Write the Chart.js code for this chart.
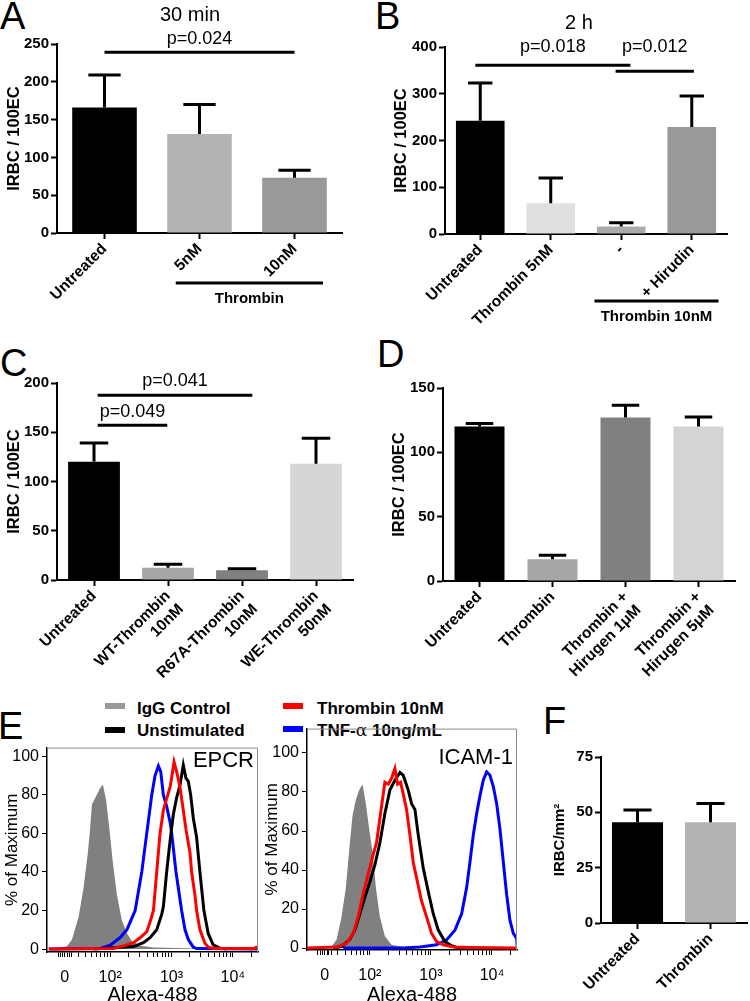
<!DOCTYPE html>
<html><head><meta charset="utf-8">
<script src="https://cdn.jsdelivr.net/npm/chart.js@4.4.1/dist/chart.umd.min.js"></script>
<style>
body{margin:0;background:#fff;width:750px;height:1001px;position:relative;overflow:hidden;font-family:"Liberation Sans",Arial,sans-serif;}
canvas{position:absolute;}
.lt{position:absolute;font-size:38px;line-height:1;color:#000;}
.lg{position:absolute;font-size:17px;font-weight:bold;line-height:1;color:#000;white-space:nowrap;}
.sw{position:absolute;width:20px;height:6px;}
</style></head><body>
<div class="lt" style="left:0px;top:-3px">A</div>
<div class="lt" style="left:375px;top:-3px">B</div>
<div class="lt" style="left:0px;top:344px">C</div>
<div class="lt" style="left:377px;top:335px">D</div>
<div class="lt" style="left:-2px;top:707px">E</div>
<div class="lt" style="left:543px;top:702px">F</div>

<div class="sw" style="left:105px;top:703px;background:#999"></div>
<div class="lg" style="left:137px;top:700px">IgG Control</div>
<div class="sw" style="left:105px;top:727px;background:#000"></div>
<div class="lg" style="left:137px;top:722px">Unstimulated</div>
<div class="sw" style="left:283px;top:703px;background:#ff0000"></div>
<div class="lg" style="left:317px;top:700px">Thrombin 10nM</div>
<div class="sw" style="left:283px;top:726px;background:#0000ff"></div>
<div class="lg" style="left:317px;top:722px">TNF-<span style="font-weight:normal;font-family:'DejaVu Serif',serif">α</span> 10ng/mL</div>

<canvas id="cA" width="375" height="310" style="left:0;top:0"></canvas>
<canvas id="cB" width="375" height="330" style="left:375px;top:0"></canvas>
<canvas id="cC" width="375" height="380" style="left:0;top:310px"></canvas>
<canvas id="cD" width="375" height="380" style="left:375px;top:310px"></canvas>
<canvas id="cE1" width="265" height="272" style="left:0;top:735px"></canvas>
<canvas id="cE2" width="265" height="291" style="left:260px;top:716px"></canvas>
<canvas id="cF" width="205" height="261" style="left:545px;top:740px"></canvas>
<script>
const FF = '"Liberation Sans", Arial, Helvetica, sans-serif';
Chart.defaults.font.family = FF;
Chart.defaults.color = '#000';

// ---------- Panel A (30 min) ----------
const A_labels = ['Untreated', '5nM', '10nM'];
const A_means = [166, 131, 73];
const A_sem = [43, 39, 10];
const A_sig = [{from: 0, to: 2, y: 239, label: 'p=0.024', labelY: 257}];

// ---------- Panel B (2 h) ----------
const B_labels = ['Untreated', 'Thrombin 5nM', '-', '+ Hirudin'];
const B_means = [242, 66, 16, 229];
const B_sem = [81, 54, 8, 66];
const B_sig = [
  {from: -0.07, to: 2.13, y: 361, label: 'p=0.018', labelY: 400},
  {from: 1.92, to: 3.03, y: 348, label: 'p=0.012', labelY: 400}
];

// ---------- Panel C ----------
const C_labels = ['Untreated', ['WT-Thrombin', '10nM'], ['R67A-Thrombin', '10nM'], ['WE-Thrombin', '50nM']];
const C_means = [120, 12.5, 10, 118];
const C_sem = [19, 3.5, 1.5, 26];
const C_sig = [
  {from: 0.05, to: 2.14, y: 187.5, label: 'p=0.041', labelY: 202},
  {from: 0.05, to: 0.99, y: 157, label: 'p=0.049', labelY: 171}
];

// ---------- Panel D ----------
const D_labels = ['Untreated', 'Thrombin', ['Thrombin +', 'Hirugen 1\u03BCM'], ['Thrombin +', 'Hirugen 5\u03BCM']];
const D_means = [120, 17, 127, 120];
const D_sem = [2.5, 3, 9.5, 7.5];

// ---------- Panel F ----------
const F_labels = ['Untreated', 'Thrombin'];
const F_means = [45.5, 45.5];
const F_sem = [5.5, 8.5];

// ---------- Panel E (flow histograms; x = log10 display units, y = % of max) ----------
const E_xTickLabels = [{v: 1.26, t: '0'}, {v: 2, t: '10\u00B2'}, {v: 3, t: '10\u00B3'}, {v: 4, t: '10\u2074'}];
const EPCR_igg = [[1.00,0],[1.079,0.2],[1.295,1.5],[1.377,5],[1.485,16.7],[1.566,31.8],[1.631,48.5],[1.664,59],[1.702,75],[1.783,80],[1.837,83.6],[1.881,85.3],[1.935,77],[1.989,61.9],[2.043,45],[2.108,28.4],[2.190,15],[2.271,8.4],[2.352,4.2],[2.488,1.7],[2.705,0.8],[3.247,0.5],[3.463,0]];
const EPCR_tnf = [[1.0,0],[1.837,0.3],[2.0,2],[2.163,6],[2.271,10],[2.407,20],[2.515,40],[2.596,60],[2.678,80],[2.732,90],[2.786,95],[2.824,92],[2.867,80],[2.921,74],[2.976,66],[3.003,60],[3.073,40],[3.165,20],[3.220,10],[3.274,5],[3.355,1],[3.409,0.3],[4.41,0]];
const EPCR_thr = [[1.0,0],[2.054,0.3],[2.217,1.7],[2.379,3.3],[2.488,5.9],[2.596,9],[2.650,14],[2.705,20],[2.759,40],[2.813,60],[2.867,72],[2.921,78],[2.976,84],[3.003,89],[3.041,97],[3.084,92],[3.138,84],[3.192,72],[3.236,62],[3.301,50],[3.328,40],[3.382,28],[3.409,20],[3.463,10],[3.545,3],[3.6,1],[3.68,0.3],[4.35,0.3],[4.38,1],[4.41,0.5]];
const EPCR_uns = [[1.729,0],[2.379,1.3],[2.542,3.3],[2.650,5.9],[2.759,10],[2.840,18],[2.867,22],[2.921,40],[2.976,56],[3.030,70],[3.084,78.6],[3.138,85],[3.192,95.5],[3.236,88.6],[3.274,87],[3.312,80],[3.355,68],[3.409,58],[3.463,40],[3.528,20],[3.599,8],[3.680,2.2],[3.789,0.5],[3.9,0]];

const ICAM_igg = [[1.0,0],[1.235,0],[1.372,0.8],[1.454,4.2],[1.536,16],[1.607,31],[1.672,54],[1.716,68],[1.770,76],[1.825,81],[1.880,84],[1.934,74],[1.989,61],[2.044,49],[2.098,31],[2.164,16],[2.246,6],[2.355,1.7],[2.546,0.5],[3.093,0]];
const ICAM_thr = [[0.97,0],[1.454,0.5],[1.617,2.5],[1.727,7.5],[1.809,16],[1.891,28],[1.973,38],[2.055,48],[2.109,54],[2.175,69],[2.246,85],[2.301,84],[2.355,87],[2.410,92],[2.454,84],[2.503,85],[2.546,79],[2.601,71],[2.656,58],[2.710,44],[2.765,36],[2.847,24],[2.929,16],[3.011,7.5],[3.093,3.3],[3.202,1.7],[3.366,0.5],[3.639,0.3],[4.41,0]];
const ICAM_uns = [[1.399,0],[1.536,0.8],[1.672,4.5],[1.754,9.2],[1.836,17.6],[1.918,26],[2.0,34],[2.082,42.6],[2.164,54],[2.246,69],[2.328,81],[2.410,86],[2.492,90],[2.546,88.6],[2.628,81],[2.683,74],[2.738,71],[2.792,58],[2.874,41],[2.956,29],[3.038,17.6],[3.120,9.2],[3.230,3.3],[3.339,1.2],[3.421,0.3],[3.6,0]];
const ICAM_tnf = [[1.563,0],[2.546,0],[2.820,0.5],[3.093,1.7],[3.257,4.2],[3.393,9.2],[3.503,17.6],[3.585,31],[3.639,44],[3.694,58],[3.749,69],[3.803,78],[3.858,86],[3.913,90.3],[3.967,88.6],[4.022,82.8],[4.077,74],[4.131,61],[4.186,44],[4.240,27.6],[4.295,14.2],[4.350,7.5],[4.404,5],[4.415,0]];

// ---------- plugins ----------
const errPlugin = {
  id: 'errbars',
  afterDatasetsDraw(chart) {
    const ds = chart.data.datasets[0], meta = chart.getDatasetMeta(0), y = chart.scales.y, ctx = chart.ctx;
    ctx.save(); ctx.strokeStyle = '#000'; ctx.lineWidth = 3;
    meta.data.forEach((bar, i) => {
      const base = y.getPixelForValue(ds.data[i]);
      const top = y.getPixelForValue(ds.data[i] + ds.sem[i]);
      const cw = bar.width * (ds.capFrac || 0.5) / 2;
      ctx.beginPath();
      ctx.moveTo(bar.x, base); ctx.lineTo(bar.x, top);
      ctx.moveTo(bar.x - cw, top); ctx.lineTo(bar.x + cw, top);
      ctx.stroke();
    });
    ctx.restore();
  }
};

function annPlugin(opt) {
  return {
    id: 'ann',
    afterDraw(chart) {
      const ctx = chart.ctx, x = chart.scales.x, y = chart.scales.y, ca = chart.chartArea;
      ctx.save();
      ctx.strokeStyle = '#000'; ctx.fillStyle = '#000'; ctx.lineWidth = 3;
      ctx.textAlign = 'center'; ctx.textBaseline = 'middle';
      (opt.sig || []).forEach(s => {
        const x1 = x.getPixelForValue(s.from), x2 = x.getPixelForValue(s.to), py = y.getPixelForValue(s.y);
        ctx.beginPath(); ctx.moveTo(x1, py); ctx.lineTo(x2, py); ctx.stroke();
        ctx.font = '18px ' + FF;
        ctx.fillText(s.label, (x1 + x2) / 2, y.getPixelForValue(s.labelY));
      });
      if (opt.title) {
        ctx.font = '20px ' + FF;
        ctx.fillText(opt.title.text, x.getPixelForValue(opt.title.x), y.getPixelForValue(opt.title.y));
      }
      if (opt.bracket) {
        const b = opt.bracket;
        const x1 = x.getPixelForValue(b.from), x2 = x.getPixelForValue(b.to);
        ctx.beginPath(); ctx.moveTo(x1, ca.bottom + b.dy); ctx.lineTo(x2, ca.bottom + b.dy); ctx.stroke();
        ctx.font = 'bold 15px ' + FF;
        ctx.fillText(b.label, (x1 + x2) / 2, ca.bottom + b.dy + 16);
      }
      ctx.restore();
    }
  };
}

function barPanel(id, o) {
  return new Chart(document.getElementById(id), {
    type: 'bar',
    data: {labels: o.labels, datasets: [{data: o.means, sem: o.sem, capFrac: o.capFrac, backgroundColor: o.colors, borderWidth: 0, barPercentage: o.barPct, categoryPercentage: 1}]},
    options: {
      responsive: false, animation: false, devicePixelRatio: 1,
      layout: {padding: {top: o.padTop, right: o.padRight, left: 0, bottom: 0}},
      plugins: {legend: {display: false}, tooltip: {enabled: false}},
      scales: {
        x: {
          grid: {display: true, drawOnChartArea: false, offset: false, tickLength: 6, tickWidth: 2, tickColor: '#000'},
          border: {color: '#000', width: 2},
          ticks: {color: '#000', font: {size: 15.5, weight: 'bold'}, minRotation: 45, maxRotation: 45, padding: 1, autoSkip: false},
          afterFit: s => { s.height = o.xH; }
        },
        y: {
          min: 0, max: o.ymax,
          ticks: {stepSize: o.step, color: '#000', font: {size: 15, weight: 'bold'}, padding: 2},
          grid: {drawOnChartArea: false, tickLength: 6, tickWidth: 2, tickColor: '#000'},
          border: {color: '#000', width: 2},
          title: {display: true, text: o.ytitle || 'IRBC / 100EC', color: '#000', font: {size: o.ytSize || 16.5, weight: 'bold'}, padding: {top: o.ytPad, bottom: 0}},
          afterFit: s => { s.width = o.yW; }
        }
      }
    },
    plugins: [errPlugin, annPlugin(o)]
  });
}

barPanel('cA', {labels: A_labels, means: A_means, sem: A_sem, colors: ['#000000', '#b3b3b3', '#999999'],
  barPct: 0.68, capFrac: 0.5, ymax: 250, step: 50, padTop: 44, padRight: 33, xH: 77, yW: 57, ytPad: 5,
  sig: A_sig, title: {text: '30 min', x: 0.9, y: 288}, bracket: {from: 0.75, to: 2.3, dy: 50, label: 'Thrombin'}});

barPanel('cB', {labels: B_labels, means: B_means, sem: B_sem, colors: ['#000000', '#e0e0e0', '#aaaaaa', '#999999'],
  barPct: 0.69, capFrac: 0.5, ymax: 400, step: 100, padTop: 47, padRight: 23, xH: 96, yW: 70, ytPad: 17,
  sig: B_sig, title: {text: '2 h', x: 1.4, y: 451}, bracket: {from: 1.62, to: 3.38, dy: 67, label: 'Thrombin 10nM'}});

barPanel('cC', {labels: C_labels, means: C_means, sem: C_sem, colors: ['#000000', '#a6a6a6', '#808080', '#d6d6d6'],
  barPct: 0.7, capFrac: 0.55, ymax: 200, step: 50, padTop: 73, padRight: 22, xH: 110, yW: 57, ytPad: 5, sig: C_sig});

barPanel('cD', {labels: D_labels, means: D_means, sem: D_sem, colors: ['#000000', '#a6a6a6', '#808080', '#d4d4d4'],
  barPct: 0.685, capFrac: 0.55, ymax: 150, step: 50, padTop: 78, padRight: 15, xH: 109, yW: 68, ytPad: 15});

barPanel('cF', {labels: F_labels, means: F_means, sem: F_sem, colors: ['#000000', '#b3b3b3'],
  barPct: 0.7, capFrac: 0.55, ymax: 75, step: 25, padTop: 17, padRight: 3, xH: 78, yW: 56, ytPad: 6,
  ytitle: 'IRBC/mm\u00B2', ytSize: 15});

// ---------- flow panels ----------
const framePlugin = {
  id: 'frame',
  afterDraw(chart) {
    const ca = chart.chartArea, ctx = chart.ctx, fo = chart.options.plugins.frame;
    ctx.save();
    ctx.strokeStyle = '#8c8c8c'; ctx.lineWidth = 1;
    ctx.beginPath();
    ctx.moveTo(ca.left, ca.top + 0.5); ctx.lineTo(ca.right - 0.5, ca.top + 0.5); ctx.lineTo(ca.right - 0.5, ca.bottom);
    ctx.stroke();
    ctx.fillStyle = '#000'; ctx.font = '22px ' + FF; ctx.textAlign = 'right'; ctx.textBaseline = 'middle';
    ctx.fillText(fo.label, ca.right - 4, ca.top + fo.labelDy);
    ctx.restore();
  }
};

function toXY(arr) { return arr.map(p => ({x: p[0], y: p[1]})); }

function flowPanel(id, o) {
  const minorX = [1.15, 1.19, 1.22, 1.30, 1.33, 1.37];
  for (let d = 1; d <= 4; d++) for (let k = 2; k <= 9; k++) {
    const v = d + Math.log10(k);
    if (v > 1.45 && v < 4.41) minorX.push(v);
  }
  return new Chart(document.getElementById(id), {
    type: 'line',
    data: {datasets: [
      {data: toXY(o.thr), borderColor: '#ff0000', borderWidth: 3, pointRadius: 0, fill: false, tension: 0},
      {data: toXY(o.uns), borderColor: '#000000', borderWidth: 3, pointRadius: 0, fill: false, tension: 0},
      {data: toXY(o.tnf), borderColor: '#0000ff', borderWidth: 3, pointRadius: 0, fill: false, tension: 0},
      {data: toXY(o.igg), borderColor: 'rgba(0,0,0,0)', borderWidth: 0, backgroundColor: '#808080', pointRadius: 0, fill: 'origin', tension: 0}
    ]},
    options: {
      responsive: false, animation: false, devicePixelRatio: 1,
      layout: {padding: {top: o.padTop, right: o.padRight, left: 0, bottom: 0}},
      plugins: {legend: {display: false}, tooltip: {enabled: false}, frame: {label: o.label, labelDy: o.labelDy}},
      scales: {
        x: {
          type: 'linear', min: 0.97, max: 4.41,
          afterBuildTicks: s => { s.ticks = E_xTickLabels.map(t => ({value: t.v})).concat(minorX.map(v => ({value: v}))).sort((a, b) => a.value - b.value); },
          ticks: {autoSkip: false, maxRotation: 0, color: '#000', font: {size: 16}, padding: 11,
            callback: v => { const t = E_xTickLabels.find(q => Math.abs(q.v - v) < 1e-6); return t ? t.t : ''; }},
          grid: {drawOnChartArea: false, tickLength: 5, tickColor: '#000', tickWidth: 1},
          border: {color: '#000', width: 1.5},
          title: {display: true, text: 'Alexa-488', color: '#000', font: {size: 20}, padding: {top: 0, bottom: 0}},
          afterFit: s => { s.height = o.xH; }
        },
        y: {
          min: o.ymin, max: o.ymax,
          afterBuildTicks: s => { const t = []; for (let v = 0; v <= 100; v += 10) t.push({value: v}); s.ticks = t; },
          ticks: {color: '#000', font: {size: 16}, padding: 3, callback: v => (v % 20 === 0 ? String(v) : '')},
          grid: {drawOnChartArea: false, tickLength: 5, tickColor: '#000', tickWidth: 1},
          border: {color: '#000', width: 1.5},
          title: {display: true, text: '% of Maximum', color: '#000', font: {size: 17}, padding: {top: 2, bottom: 0}},
          afterFit: s => { s.width = 47; }
        }
      }
    },
    plugins: [framePlugin]
  });
}

flowPanel('cE1', {igg: EPCR_igg, tnf: EPCR_tnf, thr: EPCR_thr, uns: EPCR_uns, label: 'EPCR', labelDy: 13,
  ymin: -1.5, ymax: 104.5, padTop: 7, padRight: 7, xH: 55});
flowPanel('cE2', {igg: ICAM_igg, tnf: ICAM_tnf, thr: ICAM_thr, uns: ICAM_uns, label: 'ICAM-1', labelDy: 29,
  ymin: -1, ymax: 112.5, padTop: 7, padRight: 8, xH: 57});
</script>
</body></html>
